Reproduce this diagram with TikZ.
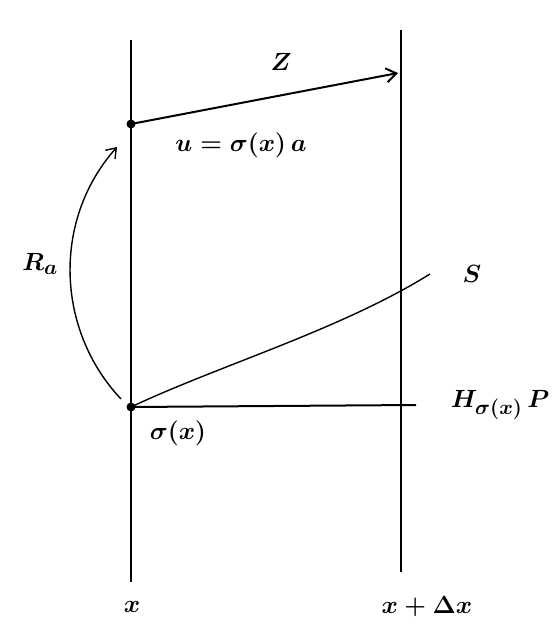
\documentclass[tikz,border=0pt]{standalone}
\usetikzlibrary{arrows.meta}
\begin{document}
\begin{tikzpicture}[x=1pt,y=-1pt,
  line/.style={line width=2pt},
  thin line/.style={line width=1.4pt},
  dot/.style={circle,fill=black,inner sep=0pt,minimum size=9pt},
  lbl/.style={font=\fontsize{31}{36}\selectfont\boldmath}]
\useasboundingbox (0,0) rectangle (552,640);
% vertical lines
\coordinate (lt) at (131,40);
\coordinate (lb) at (131,582);
\coordinate (rt) at (401,30);
\coordinate (rb) at (401,572);
\draw[line] (lt) -- (lb);
\draw[line] (rt) -- (rb);
% points
\node[dot] (u) at (131,124) {};
\node[dot] (s) at (131,407) {};
\coordinate (zend) at (398,73);
\coordinate (hend) at (416,405);
\coordinate (send) at (430,274);
% Z arrow
\draw[line,-{Straight Barb[length=10pt,width=14pt]}] (u.center) -- (zend);
\node[lbl] (zl) at (281,62) {$Z$};
\node[lbl] (ul) at (241,145) {$u=\sigma(x)\,a$};
% horizontal
\draw[line] (s.center) -- (hend);
\node[lbl] (hl) at (500,405) {$H_{\sigma(x)}\,P$};
% S curve
\draw[thin line] (s.center) .. controls (220,365) and (340,330) .. (send);
\node[lbl] (sl) at (472,274) {$S$};
% Ra arrow
\draw[thin line,-{Straight Barb[length=9pt,width=13pt]}] (121,399) .. controls (56,330) and (52,220) .. (117,147);
\node[lbl] (ra) at (40,264) {$R_a$};
\node[lbl] (sx) at (178,433) {$\sigma(x)$};
% bottom labels
\node[lbl] (xl) at (132,607) {$x$};
\node[lbl] (xdl) at (427,607) {$x+\Delta x$};
\end{tikzpicture}
\end{document}
